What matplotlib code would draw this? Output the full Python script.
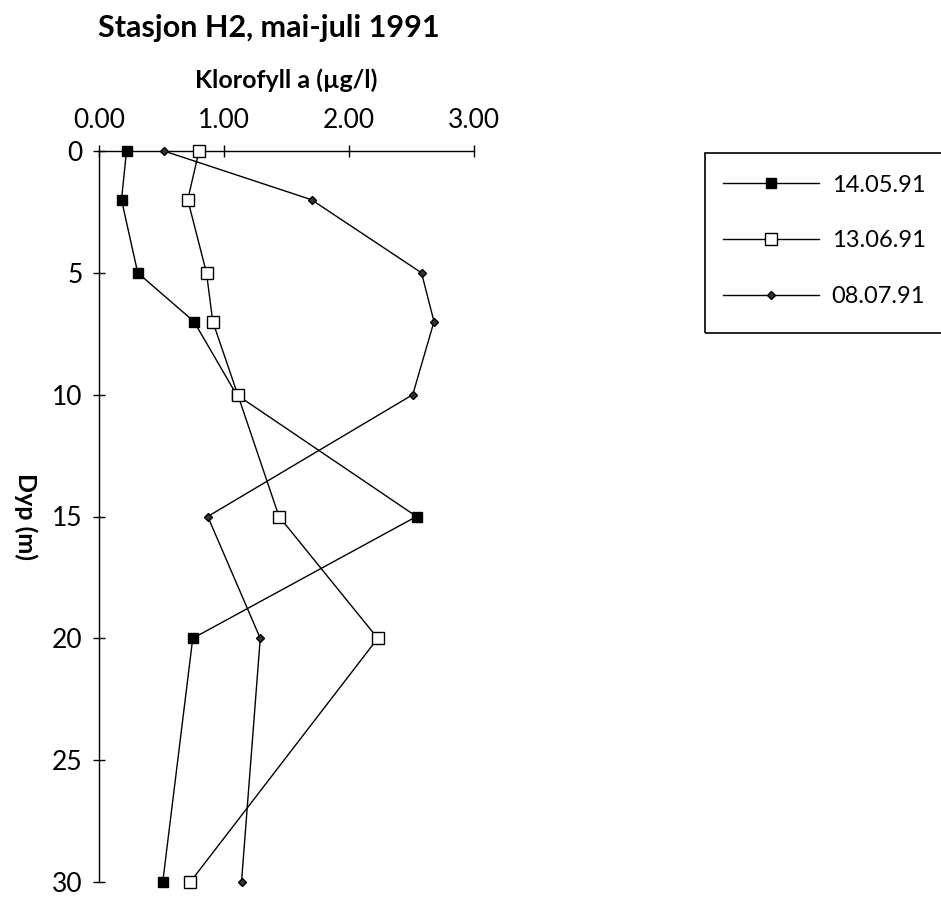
import matplotlib
matplotlib.use("Agg")
import matplotlib.pyplot as plt
from matplotlib.patches import Rectangle

plt.rcParams['font.family'] = ['Lato', 'DejaVu Sans']

depth = [0, 2, 5, 7, 10, 15, 20, 30]
s_140591 = [0.22, 0.18, 0.31, 0.76, 1.10, 2.54, 0.75, 0.51]
s_130691 = [0.80, 0.71, 0.86, 0.91, 1.11, 1.44, 2.23, 0.73]
s_080791 = [0.52, 1.70, 2.58, 2.68, 2.51, 0.87, 1.29, 1.14]
labels = ['14.05.91', '13.06.91', '08.07.91']
xticks = [0, 1, 2, 3]
xticklabels = ['0.00', '1.00', '2.00', '3.00']
yticks = [0, 5, 10, 15, 20, 25, 30]

W, H = 941, 898
fig = plt.figure(figsize=(W / 100, H / 100), dpi=100)
ax = fig.add_axes([99 / W, 1 - 882 / H, (474 - 99) / W, (882 - 151) / H])

l1, = ax.plot(s_140591, depth, color='black', lw=1.0, marker='s', ms=7,
              mfc='black', mec='black', clip_on=False, zorder=3)
l2, = ax.plot(s_130691, depth, color='black', lw=1.0, marker='s', ms=9,
              mfc='white', mec='black', mew=1.0, clip_on=False, zorder=4)
l3, = ax.plot(s_080791, depth, color='black', lw=1.0, marker='D', ms=4.2,
              mfc='#333333', mec='black', clip_on=False, zorder=5)

ax.set_xlim(0, 3)
ax.set_ylim(30, 0)
ax.xaxis.tick_top()
ax.xaxis.set_label_position('top')
ax.set_xticks(xticks)
ax.set_xticklabels(xticklabels)
ax.set_yticks(yticks)
for s in ['right', 'bottom']:
    ax.spines[s].set_visible(False)
for s in ['left', 'top']:
    ax.spines[s].set_linewidth(1.0)
ax.tick_params(axis='both', direction='inout', length=8, width=1.0,
               labelsize=19, colors='black')
ax.tick_params(axis='x', pad=9)
ax.tick_params(axis='y', pad=8)
ax.set_facecolor('none')

ax.set_xlabel('Klorofyll a (µg/l)', fontsize=18, fontweight='bold', labelpad=14)
ax.set_ylabel('Dyp (m)', fontsize=18, fontweight='bold', rotation=270,
              labelpad=27)

fig.text(98 / W, 1 - 28 / H, 'Stasjon H2, mai-juli 1991', fontsize=22,
         fontweight='bold', ha='left', va='center')

# legend box
fig.patches.append(Rectangle((705 / W, 1 - 333 / H), (980 - 705) / W,
                             (333 - 153) / H, transform=fig.transFigure,
                             fill=False, lw=1.2, ec='black', clip_on=False))
leg = fig.legend([l1, l2, l3], labels, loc='upper left',
                 bbox_to_anchor=(706 / W, 1 - 158 / H), frameon=False,
                 fontsize=17, handlelength=4.07, handletextpad=0.55,
                 labelspacing=1.48, borderpad=0.2)

fig.savefig('out.png', dpi=100)
